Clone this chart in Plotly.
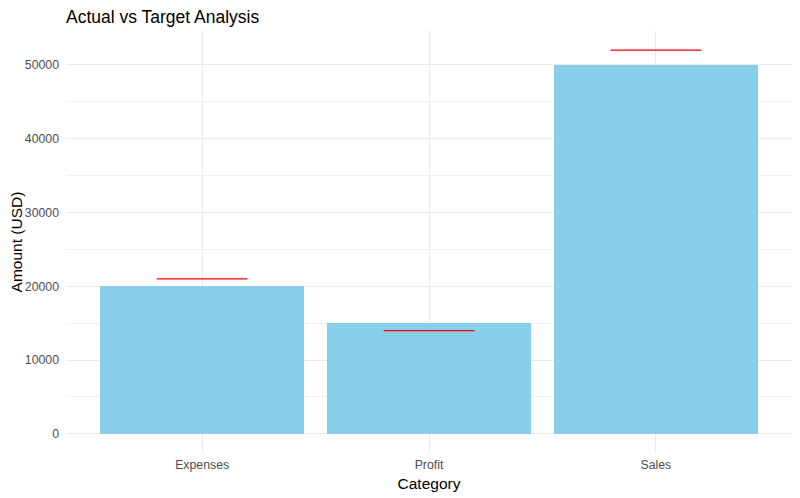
import plotly.graph_objects as go

# Data
categories = ['Expenses', 'Profit', 'Sales']
actual = [20000, 15000, 50000]
target = [21000, 14000, 52000]

x_pos = list(range(1, len(categories) + 1))

# target segments, one short horizontal line per category
seg_x, seg_y = [], []
for xp, t in zip(x_pos, target):
    seg_x += [xp - 0.2, xp + 0.2, None]
    seg_y += [t, t, None]

fig = go.Figure()

fig.add_trace(go.Bar(
    x=x_pos, y=actual, width=0.9,
    marker=dict(color='#87CEEB', line=dict(width=0)),
    showlegend=False
))

fig.add_trace(go.Scatter(
    x=seg_x, y=seg_y, mode='lines',
    line=dict(color='red', width=1.3),
    showlegend=False
))

# page body has an 8px margin, so the figure is sized/offset to compensate
fig.update_layout(
    width=792, height=490,
    plot_bgcolor='white', paper_bgcolor='white',
    margin=dict(l=58, r=8, t=23, b=45, autoexpand=False),
    font=dict(family='Liberation Sans, Arial, sans-serif', color='black'),
    title=dict(text='Actual vs Target Analysis', font=dict(size=17.5, color='black'),
               x=58/792, xanchor='left', y=1, yanchor='top', pad=dict(t=3)),
    bargap=0,
)

fig.update_xaxes(
    range=[0.4, 3.6],
    tickmode='array', tickvals=x_pos, ticktext=categories,
    tickfont=dict(size=12.3, color='#4D4D4D'),
    ticklabelstandoff=3,
    showgrid=True, gridcolor='#EBEBEB', gridwidth=1,
    zeroline=False, showline=False, ticks='',
    title=dict(text='Category', font=dict(size=15.5, color='black'), standoff=6),
)

fig.update_yaxes(
    range=[-2600, 54600],
    tickmode='linear', tick0=0, dtick=10000,
    tickformat='d',
    tickfont=dict(size=12.3, color='#4D4D4D'),
    ticklabelstandoff=6,
    showgrid=True, gridcolor='#EBEBEB', gridwidth=1,
    minor=dict(tickmode='linear', tick0=5000, dtick=10000, showgrid=True,
               gridcolor='#F2F2F2', gridwidth=0.6),
    zeroline=False, showline=False, ticks='',
    title=dict(text='Amount (USD)', font=dict(size=15.5, color='black'), standoff=6),
)

fig.write_html('out.html')
